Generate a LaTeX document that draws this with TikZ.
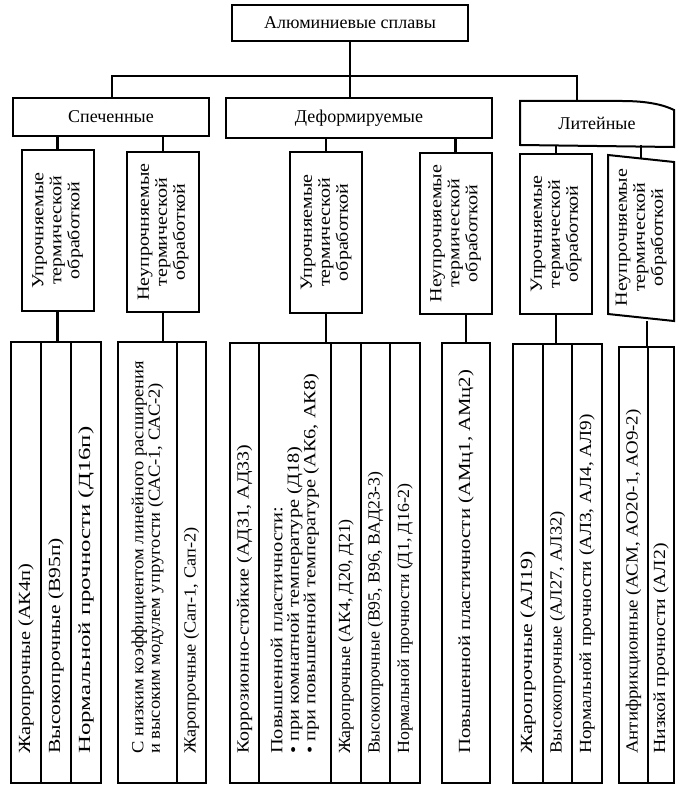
\documentclass[tikz,border=0pt]{standalone}
\usepackage{fontspec}
\setmainfont{Liberation Serif}
\usetikzlibrary{positioning,calc}
\tikzset{
  head/.style={draw,line width=2pt,inner sep=0pt,
    font=\fontsize{18}{20}\selectfont},
  kind/.style={draw,line width=2pt,inner sep=0pt,
    minimum width=72pt,minimum height=160pt},
  ktext/.style={rotate=90,xscale=1.18,align=center,inner sep=0pt,
    font=\fontsize{17}{18}\selectfont},
  cell/.style={draw,line width=2pt,anchor=north west,inner sep=0pt},
  vtext/.style={rotate=90,anchor=west,align=left,inner sep=0pt,
    font=\fontsize{17}{16.5}\selectfont},
  wire/.style={line width=2.6pt},
  rim/.style={line width=2pt},
}
\begin{document}
\begin{tikzpicture}[x=1pt,y=-1pt]
  \useasboundingbox (0,0) rectangle (681,791);
  % top level
  \node[head,minimum width=236pt,minimum height=36pt] (alu) at (350,23) {Алюминиевые сплавы};
  \node[head,minimum width=196pt,minimum height=38pt] (sint) at (111,117) {Спеченные};
  \node[head,minimum width=266pt,minimum height=40pt] (deform) at (359,118) {Деформируемые};
  \node[head,draw=none,minimum width=152pt,minimum height=42pt] (cast) at (597,123) {Литейные};
  \draw[rim] (cast.north west) -- ([xshift=-52pt]cast.north east)
    .. controls ([xshift=-26pt]cast.north east) and ([xshift=-10pt,yshift=-4pt]cast.north east)
    .. ([yshift=-9pt]cast.north east) -- ([yshift=-2pt]cast.south east)
    -- (cast.south west) -- cycle;
  \coordinate (busl) at (112,76);
  \coordinate (busr) at (577,76);
  \draw[wire] (alu.south) -- (alu.south |- busl);
  \draw[wire] (sint.north -| busl) -- (busl) -- (busr) -- (cast.north -| busr);
  \draw[wire] (alu.south |- busl) -- (deform.north -| alu.south);

  % heat treatment boxes
  \foreach \n/\x/\y/\t in {kA/57.5/230.5/Упрочняемые,kB/163/232/Неупрочняемые,
      kC/326/232.5/Упрочняемые,kD/455.5/233.5/Неупрочняемые,
      kE/556/234/Упрочняемые}{
    \node[kind] (\n) at (\x,\y) {};
    \node[ktext] (\n t) at (\n) {\t\\термической\\обработкой};
  }
  \node[kind,draw=none,minimum width=64pt,minimum height=157pt] (kF) at (641,234.5) {};
  \draw[rim] (kF.north west) -- ([yshift=-7pt]kF.north east)
    -- ([yshift=-7pt]kF.south east) -- (kF.south west) -- cycle;
  \node[ktext] (kFt) at ([yshift=-3pt]kF.center) {Неупрочняемые\\термической\\обработкой};
  \foreach \p/\k in {sint/kA,sint/kB,deform/kC,deform/kD,cast/kE}
    \draw[wire] (\p.south -| \k.north) -- (\k.north);
  \draw[wire] (cast.south -| kF.north) -- ([yshift=-3.5pt]kF.north);

  % alloy groups
  \foreach \n/\l/\r/\t in {a1/10/40/341,a2/40/70/341,a3/70/100/341,
      b1/117/176/341,b2/176/205/341,
      c1/229/258/342,c2/258/330/342,c3/330/360/342,c4/360/389/342,c5/389/419/342,
      d1/441/489/342,
      e1/512/542/343,e2/542/571/343,e3/571/601/343,
      f1/618/647/346,f2/647/673/346}
    \node[cell,minimum width=\r pt-\l pt,minimum height=782pt-\t pt] (\n) at (\l,\t) {};

  \draw[wire] (kA.south) -- (kA.south |- a2.north);
  \draw[wire] (kB.south) -- (kB.south |- b1.north);
  \draw[wire] (kC.south) -- (kC.south |- c2.north);
  \draw[wire] (kD.south -| d1.north) -- (d1.north);
  \draw[wire] (kE.south) -- (kE.south |- e2.north);
  \draw[wire] ([yshift=-7pt]kF.south -| f2.north west) -- (f2.north west);

  % texts of the groups
  \foreach \c/\s/\t in {a1/1.2/{Жаропрочные (АК4п)},a2/1.27/{Высокопрочные (В95п)},
      a3/1.46/{Нормальной прочности (Д16п)},
      b1/1.09/{С низким коэффициентом линейного расширения\\и высоким модулем упругости (САС-1, САС-2)},
      b2/1.08/{Жаропрочные (Сап-1, Сап-2)},
      c1/1.17/{Коррозионно-стойкие (АД31, АД33)},
      c2/1.2/{Повышенной пластичности:\\• при комнатной температуре (Д18)\\• при повышенной температуре (АК6, АК8)},
      c3/1.05/{Жаропрочные (АК4, Д20, Д21)},
      c4/1.04/{Высокопрочные (В95, В96, ВАД23-3)},
      c5/1.05/{Нормальной прочности (Д1, Д16-2)},
      d1/1.22/{Повышенной пластичности (АМц1, АМц2)},
      e1/1.28/{Жаропрочные (АЛ19)},e2/1.09/{Высокопрочные (АЛ27, АЛ32)},
      e3/1.13/{Нормальной прочности (АЛ3, АЛ4, АЛ9)},
      f1/1.11/{Антифрикционные (АСМ, АО20-1, АО9-2)},f2/1.16/{Низкой прочности (АЛ2)}}
    \node[vtext,xscale=\s] (t\c) at ([yshift=30pt]\c.south) {\t};
\end{tikzpicture}
\end{document}
